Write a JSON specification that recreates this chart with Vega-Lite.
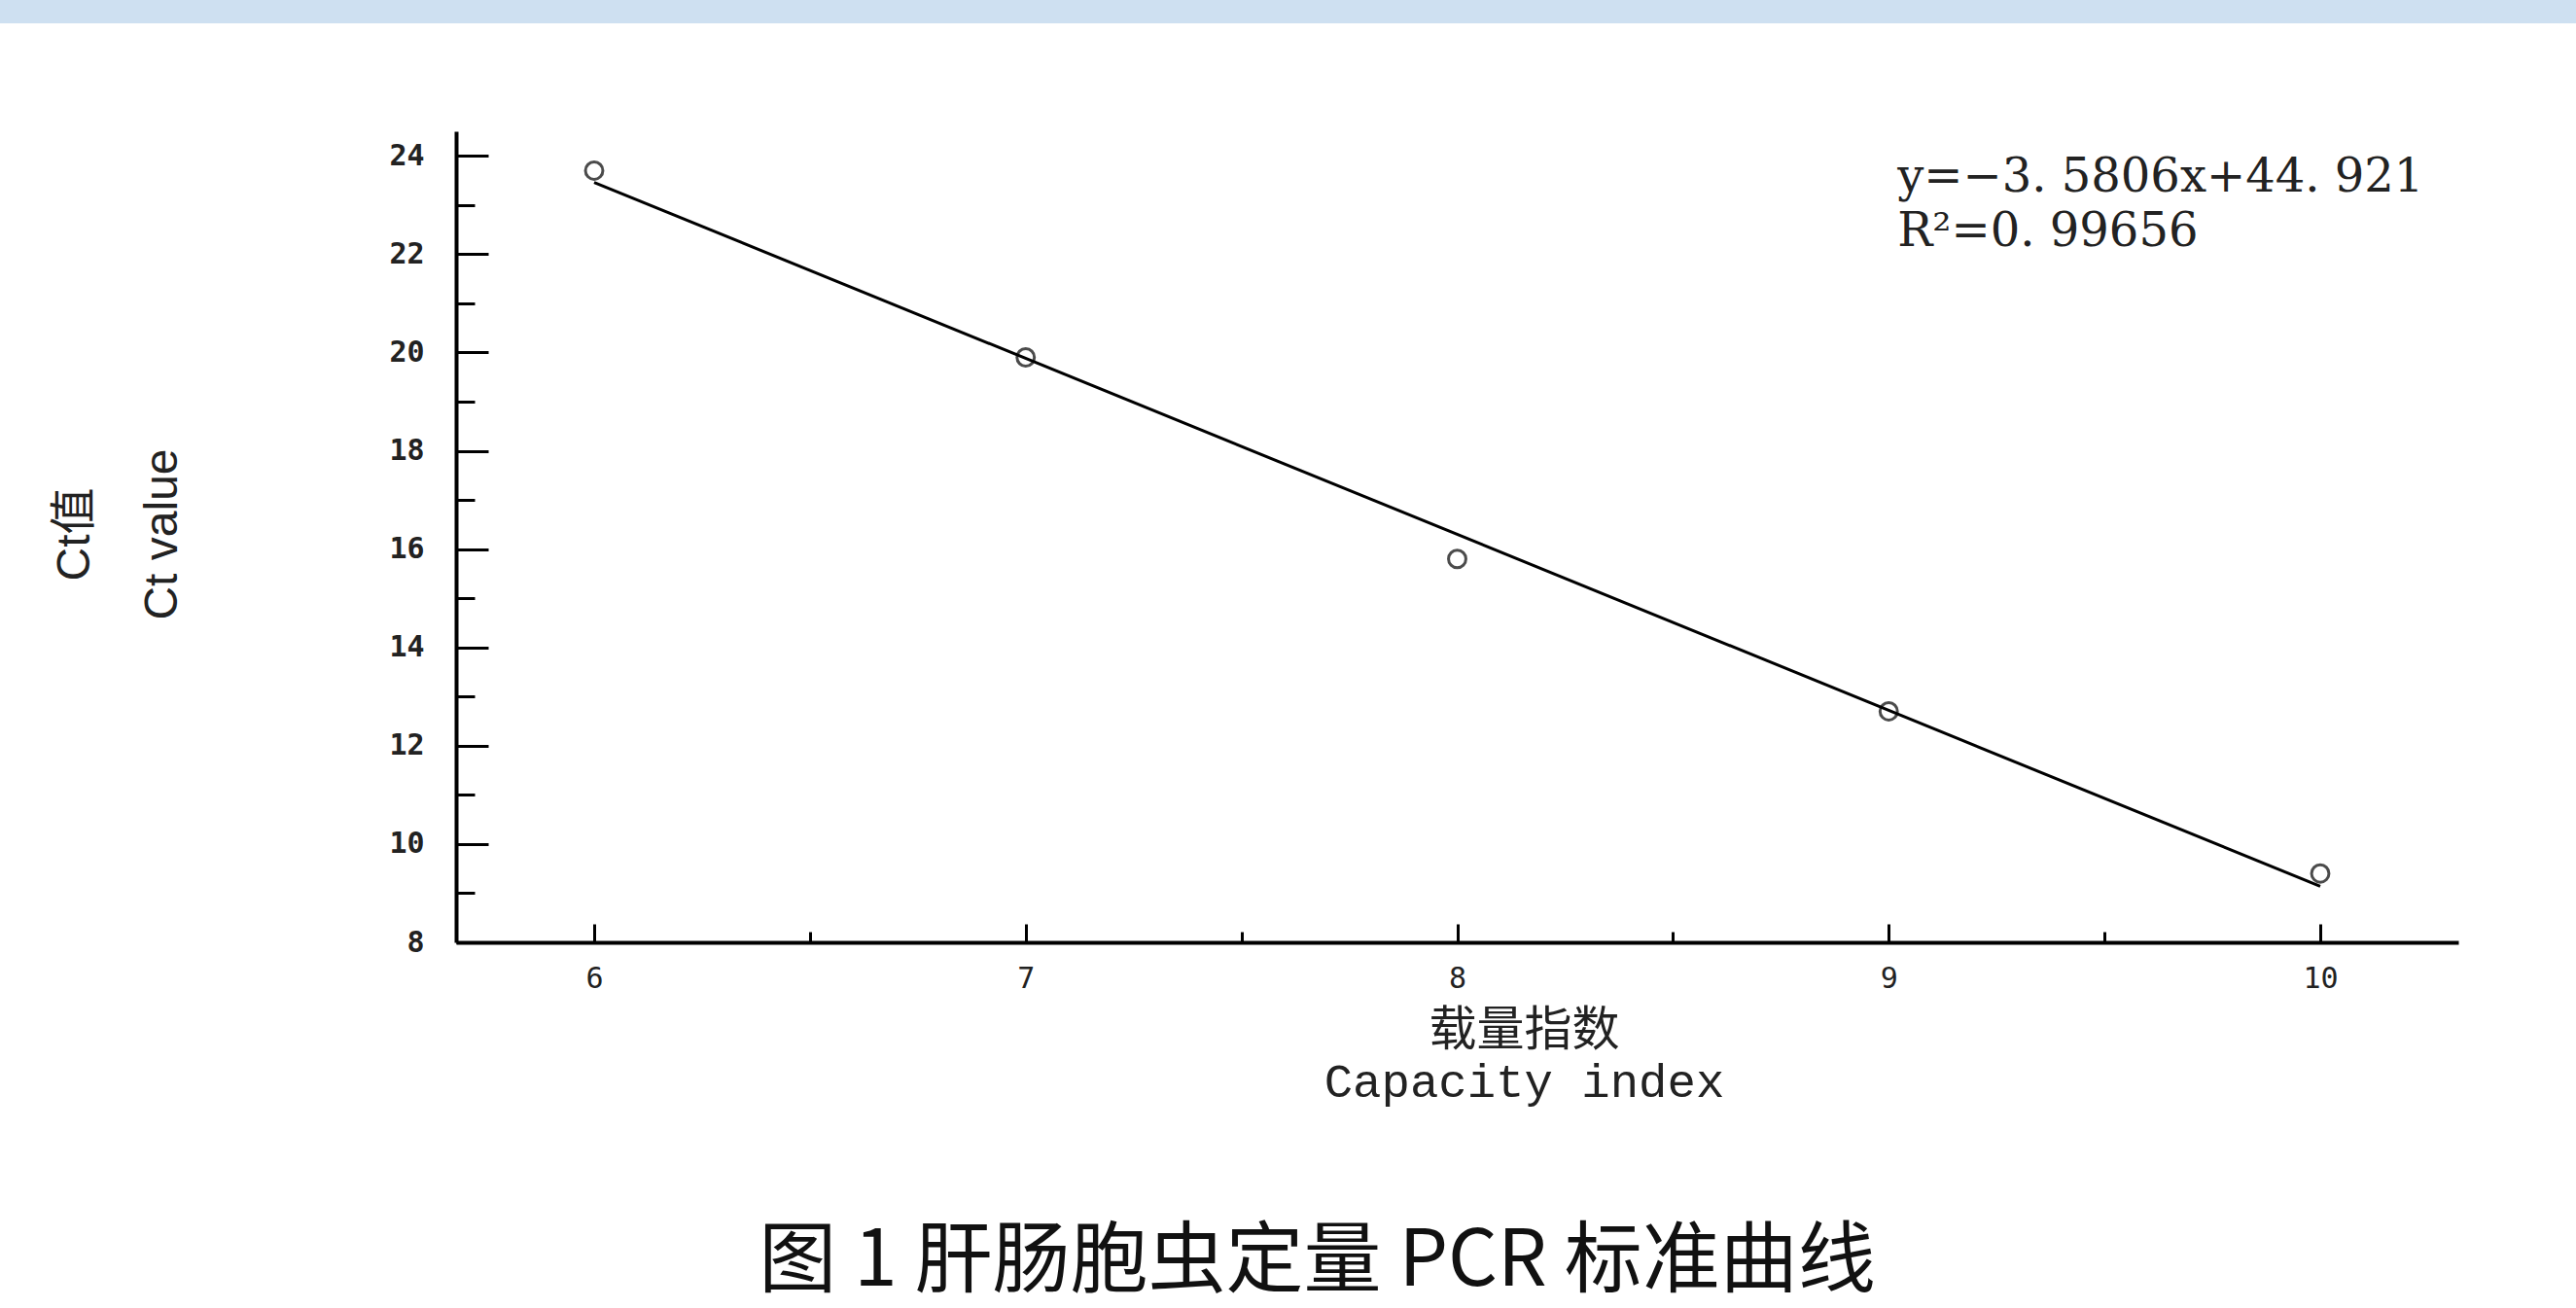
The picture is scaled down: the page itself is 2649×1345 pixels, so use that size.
{
  "$schema": "https://vega.github.io/schema/vega-lite/v6.json",
  "padding": {"left": 0, "top": 0, "right": 0, "bottom": 40},
  "background": "white",
  "autosize": {"type": "pad"},
  "bounds": "flush",
  "spacing": 111,
  "config": {"view": {"stroke": null}},
  "vconcat": [
    {
      "width": 2649,
      "height": 24,
      "view": {"fill": "#cee0f1", "stroke": null},
      "data": {"values": [{"v": 1}]},
      "mark": {"type": "point", "opacity": 0},
      "encoding": {}
    },
    {
      "spacing": 0,
      "bounds": "flush",
      "hconcat": [
        {
          "width": 469,
          "height": 834,
          "view": {"stroke": null},
          "data": {"values": [{"v": 1}]},
          "mark": {"type": "point", "opacity": 0},
          "encoding": {}
        },
        {
          "width": 2059,
          "height": 834,
          "title": {
            "text": "图 1 肝肠胞虫定量 PCR 标准曲线",
            "orient": "bottom",
            "anchor": "middle",
            "frame": "group",
            "font": "Noto Sans CJK SC",
            "fontSize": 80,
            "fontWeight": "normal",
            "color": "#111111",
            "offset": 122,
            "dx": -144
          },
          "data": {
            "values": [
              {"x": 6, "ct": 23.7},
              {"x": 7, "ct": 19.9},
              {"x": 8, "ct": 15.8},
              {"x": 9, "ct": 12.7},
              {"x": 10, "ct": 9.4}
            ]
          },
          "encoding": {
            "x": {
              "field": "x",
              "type": "quantitative",
              "scale": {"domain": [5.68, 10.32], "nice": false, "zero": false},
              "axis": {
                "values": [6, 6.5, 7, 7.5, 8, 8.5, 9, 9.5, 10],
                "labelExpr": "datum.value % 1 === 0 ? '' + datum.value : ''",
                "grid": false,
                "domainColor": "black",
                "domainWidth": 4,
                "tickColor": "black",
                "tickWidth": 3,
                "tickSize": {"condition": {"test": "datum.value % 1 === 0", "value": -19}, "value": -11},
                "labelFont": "DejaVu Sans Mono",
                "labelFontSize": 30,
                "labelColor": "#222222",
                "labelPadding": 41,
                "title": ["载量指数", "Capacity index"],
                "titleFont": "Liberation Mono, Noto Sans CJK SC",
                "titleFontSize": 49,
                "titleFontWeight": "normal",
                "titleColor": "#222222",
                "titleLineHeight": 53,
                "titleX": 1098,
                "titleY": 66,
                "titleAlign": "center",
                "titleBaseline": "top"
              }
            },
            "y": {
              "field": "ct",
              "type": "quantitative",
              "scale": {"domain": [8, 24.5], "nice": false, "zero": false},
              "axis": {
                "values": [8, 9, 10, 11, 12, 13, 14, 15, 16, 17, 18, 19, 20, 21, 22, 23, 24],
                "labelExpr": "datum.value % 2 === 0 ? '' + datum.value : ''",
                "grid": false,
                "domainColor": "black",
                "domainWidth": 4,
                "tickColor": "black",
                "tickWidth": 3,
                "tickSize": {"condition": {"test": "datum.value % 2 === 0", "value": -33}, "value": -19},
                "labelFont": "DejaVu Sans Mono",
                "labelFontSize": 30,
                "labelFontWeight": "bold",
                "labelColor": "#222222",
                "labelPadding": 66,
                "title": ["Ct值", "Ct value"],
                "titleFont": "Liberation Sans, Noto Sans CJK SC",
                "titleFontSize": 48,
                "titleFontWeight": "normal",
                "titleColor": "#222222",
                "titleLineHeight": 90,
                "titleAngle": 270,
                "titleX": -368,
                "titleY": 414,
                "titleAlign": "center",
                "titleBaseline": "bottom"
              }
            }
          },
          "layer": [
            {
              "transform": [{"regression": "ct", "on": "x", "extent": [6, 10]}],
              "mark": {"type": "line", "color": "black", "strokeWidth": 3}
            },
            {
              "mark": {"type": "point", "shape": "circle", "filled": false, "color": "black", "size": 320, "strokeWidth": 3}
            },
            {
              "data": {"values": [{"label": "y=−3. 5806x+44. 921", "x": 9.02, "ct": 23.55}, {"label": "R²=0. 99656", "x": 9.02, "ct": 22.45}]},
              "mark": {"type": "text", "align": "left", "baseline": "middle", "font": "DejaVu Serif", "fontSize": 48, "color": "#222222"},
              "encoding": {
                "text": {"field": "label", "type": "nominal"}
              }
            }
          ]
        }
      ]
    }
  ]
}
